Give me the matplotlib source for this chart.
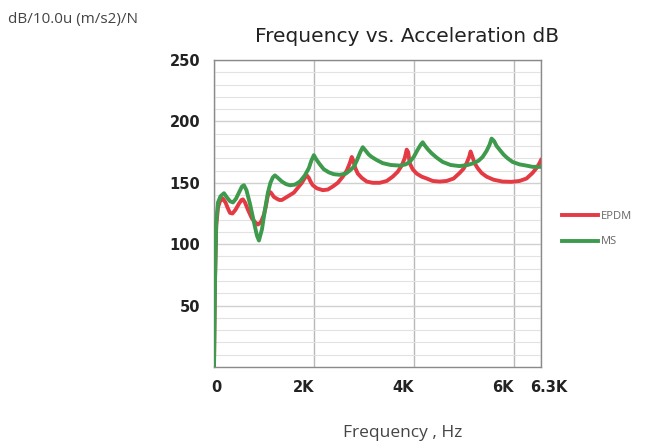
import matplotlib
matplotlib.use("Agg")
import matplotlib.pyplot as plt
from matplotlib.ticker import MultipleLocator
from matplotlib.transforms import ScaledTranslation

# ---- data ----
ms_freq = [0, 20, 45, 80, 130, 200, 260, 320, 380, 440, 500, 560, 600, 650, 720, 800,
           860, 900, 960, 1020, 1080, 1130, 1180, 1220, 1280, 1360, 1440, 1520, 1620,
           1720, 1820, 1900, 1950, 2000, 2050, 2120, 2200, 2300, 2400, 2520, 2640, 2720,
           2800, 2860, 2930, 2980, 3040, 3100, 3160, 3260, 3380, 3540, 3720, 3840, 3920,
           4000, 4080, 4140, 4180, 4230, 4290, 4360, 4460, 4580, 4740, 4920, 5080, 5200,
           5300, 5380, 5460, 5520, 5560, 5610, 5660, 5720, 5800, 5880, 5980, 6120, 6260,
           6380, 6550]
ms_db = [0, 70, 118, 134, 139, 141.5, 138, 135, 134, 137, 142, 147, 148, 144, 133, 118,
         107, 103, 112, 128, 142, 150, 154.5, 156, 154, 151, 149, 148, 148.5,
         151, 156, 162, 168, 172.5, 169, 165, 161, 158.5, 157, 156.5, 157.5, 160,
         163, 168, 175, 179, 176, 173, 171, 168.5, 166, 164.5, 164, 165, 167,
         171, 177, 181, 183, 180, 177, 174, 170.5, 167, 164.5, 163.6, 164.5, 166,
         168, 171, 176, 181, 186, 184, 180, 177, 173, 170, 167, 165, 164,
         163, 163]

epdm_freq = [0, 20, 45, 80, 120, 180, 230, 280, 320, 370, 430, 500, 550, 580, 620, 680,
             760, 820, 880, 940, 1000, 1040, 1070, 1100, 1140, 1200, 1260, 1310, 1360,
             1440, 1520, 1600, 1680, 1760, 1820, 1860, 1900, 1940, 1980, 2060, 2180, 2280,
             2380, 2480, 2580, 2660, 2720, 2760, 2790, 2830, 2880, 2960, 3060, 3180, 3320,
             3460, 3580, 3680, 3760, 3820, 3860, 3890, 3920, 3980, 4060, 4160, 4260, 4380,
             4520, 4660, 4800, 4920, 5000, 5060, 5110, 5140, 5170, 5220, 5280, 5360, 5460,
             5600, 5780, 5960, 6120, 6260, 6380, 6460, 6520, 6550]
epdm_db = [0, 70, 115, 130, 135, 137, 134, 129, 125.5, 125, 128, 133, 136, 136.5, 134, 128,
           121, 118, 116, 118, 124, 131, 138, 143, 142, 138.5, 137, 136, 136,
           138, 140, 142, 146, 150, 154, 156, 154, 150.5, 148, 145.5, 144, 144.5,
           147, 150, 155, 160, 166, 171, 168, 162, 157.5, 154, 151, 150, 150,
           151.5, 155, 159, 164, 170, 177, 175, 166, 161, 157.5, 155, 153.5, 151.5,
           151, 151.5, 153.5, 158, 161.5, 166, 171, 175.5, 172, 166, 162, 158, 155,
           152.5, 151, 150.8, 151.5, 153.5, 158, 162, 166, 168.5]

x_ticks = [0, 2000, 4000, 6000, 6550]
x_tick_labels = ["0", "2K", "4K", "6K", "6.3K"]
y_ticks = [50, 100, 150, 200, 250]

# ---- figure ----
fig = plt.figure(figsize=(6.54, 4.45), dpi=100)
ax = fig.add_axes([214/654, 1-367/445, (541-214)/654, (367-60)/445])

ax.plot(epdm_freq, epdm_db, color="#e43a44", lw=2.8, label="EPDM", zorder=3,
        solid_joinstyle="round")
ax.plot(ms_freq, ms_db, color="#3e9a4c", lw=2.8, label="MS", zorder=4,
        solid_joinstyle="round")

ax.set_xlim(0, 6550)
ax.set_ylim(0, 250)
ax.set_xticks(x_ticks)
ax.set_xticklabels(x_tick_labels)
ax.set_yticks(y_ticks)
ax.yaxis.set_minor_locator(MultipleLocator(10))
ax.grid(axis="y", which="minor", color="#e2e2e2", lw=0.8)
ax.grid(axis="y", which="major", color="#d0d0d0", lw=1.0)
ax.grid(axis="x", which="major", color="#b8b8b8", lw=1.0)
ax.set_axisbelow(True)
for s in ax.spines.values():
    s.set_color("#8a8a8a")
    s.set_linewidth(1.0)
ax.tick_params(axis="y", which="both", length=0, pad=10)
ax.tick_params(axis="x", which="both", length=0, pad=9)
for lab in ax.get_xticklabels() + ax.get_yticklabels():
    lab.set_fontweight("bold")
    lab.set_family("DejaVu Sans")
    lab.set_fontsize(10.5)
    lab.set_color("#222222")

# x tick label offsets (pixels) as in the reference
x_offsets = [2, -10, -11, -11, 8]
for lab, dx in zip(ax.get_xticklabels(), x_offsets):
    lab.set_transform(lab.get_transform() + ScaledTranslation(dx/100, 0, fig.dpi_scale_trans))

fig.text(8/654, 1-20/445, "dB/10.0u (m/s2)/N", fontsize=11, color="#444444",
         family="Open Sans", va="center", ha="left")
fig.text(407/654, 1-36/445, "Frequency vs. Acceleration dB", fontsize=14.5, color="#222222",
         family="DejaVu Sans", va="center", ha="center")
fig.text(403/654, 1-433/445, "Frequency , Hz", fontsize=12.5, color="#444444",
         family="Open Sans", va="center", ha="center")

leg = fig.legend(loc="upper left", bbox_to_anchor=(552/654, 1-201/445), frameon=False,
                 handlelength=3.2, handletextpad=0.3, labelspacing=1.3,
                 prop={"family": "Open Sans", "size": 8})
for t in leg.get_texts():
    t.set_color("#666666")

fig.savefig("out.png", dpi=100)
